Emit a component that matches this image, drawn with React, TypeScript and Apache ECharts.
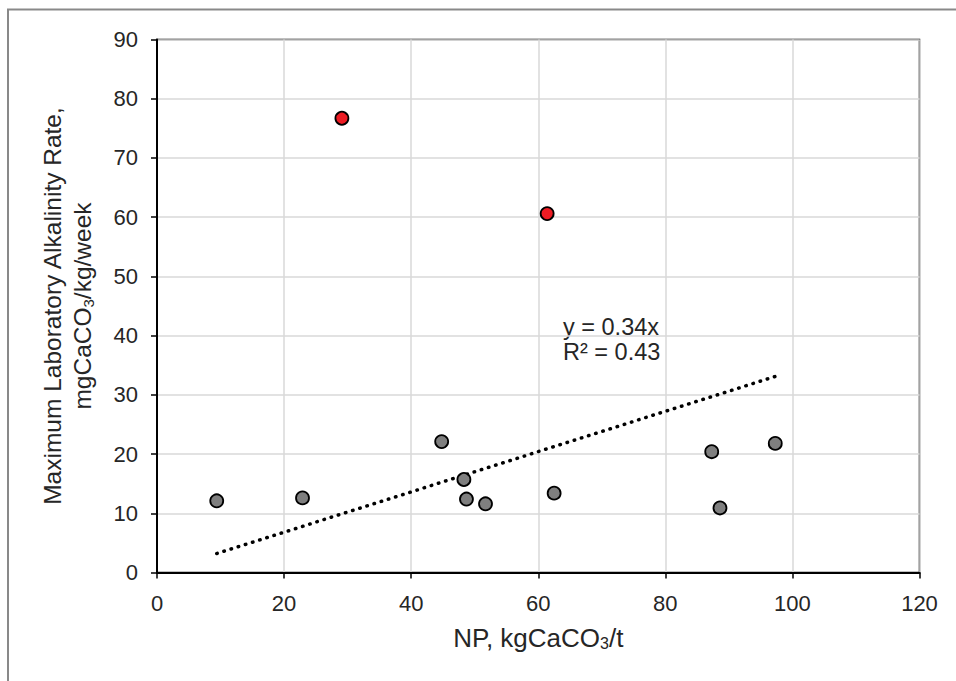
import React, { useEffect, useRef } from "react";
import * as echarts from "echarts";

const grayNP = [9.4, 22.9, 44.8, 48.3, 48.7, 51.7, 62.5, 87.3, 88.6, 97.3];
const grayRate = [12.1, 12.6, 22.1, 15.7, 12.4, 11.6, 13.4, 20.4, 10.9, 21.8];
const redNP = [29.1, 61.4];
const redRate = [76.7, 60.6];
const trendNP = [9.4, 97.3];
const trendRate = [3.2, 33.1];
const xTicks = [0, 20, 40, 60, 80, 100, 120];
const yTicks = [0, 10, 20, 30, 40, 50, 60, 70, 80, 90];
const equationLines = ["y = 0.34x", "R² = 0.43"];

const FONT = "'Liberation Sans', Arial, sans-serif";

export default function App() {
  const ref = useRef<HTMLDivElement>(null);
  useEffect(() => {
    if (!ref.current) return;
    const chart = echarts.init(ref.current, undefined, { renderer: "svg" });
    const zip = (a: number[], b: number[]) => a.map((v, i) => [v, b[i]]);
    chart.setOption({
      animation: false,
      backgroundColor: "#ffffff",
      textStyle: { fontFamily: FONT },
      grid: {
        left: 157,
        top: 39.5,
        right: 36.5,
        bottom: 108.5,
        show: true,
        borderColor: "#000",
        borderWidth: 1.5,
        containLabel: false,
      },
      xAxis: {
        type: "value",
        min: xTicks[0],
        max: xTicks[xTicks.length - 1],
        interval: 20,
        name: "NP, kgCaCO{sub|3}/t",
        nameLocation: "middle",
        nameGap: 50,
        nameTextStyle: {
          fontFamily: FONT,
          fontSize: 26,
          color: "#262626",
          lineHeight: 30,
          rich: {
            sub: { fontFamily: FONT, fontSize: 16, color: "#262626", padding: [12, 0, 0, 0] },
          },
        },
        axisLine: { show: true, onZero: false, lineStyle: { color: "#000", width: 2 } },
        axisTick: { show: true, inside: false, length: 6, lineStyle: { color: "#000", width: 1.5 } },
        axisLabel: { fontFamily: FONT, fontSize: 22, color: "#262626", margin: 20 },
        splitLine: { show: true, lineStyle: { color: "#d9d9d9", width: 1.5 } },
      },
      yAxis: {
        type: "value",
        min: yTicks[0],
        max: yTicks[yTicks.length - 1],
        interval: 10,
        name: "Maximum Laboratory Alkalinity Rate,\nmgCaCO{sub|3}/kg/week",
        nameLocation: "middle",
        nameRotate: 90,
        nameGap: 60,
        nameTextStyle: {
          fontFamily: FONT,
          fontSize: 24.5,
          color: "#262626",
          lineHeight: 30,
          align: "center",
          rich: {
            sub: { fontFamily: FONT, fontSize: 15, color: "#262626", padding: [12, 0, 0, 0] },
          },
        },
        axisLine: { show: true, onZero: false, lineStyle: { color: "#000", width: 2 } },
        axisTick: { show: true, inside: false, length: 6, lineStyle: { color: "#000", width: 1.5 } },
        axisLabel: { fontFamily: FONT, fontSize: 22, color: "#262626", margin: 19 },
        splitLine: { show: true, lineStyle: { color: "#d9d9d9", width: 1.5 } },
      },
      graphic: [
        {
          type: "rect",
          silent: true,
          shape: { x: 8, y: 9.5, width: 1000, height: 700 },
          style: { fill: "none", stroke: "#898989", lineWidth: 2 },
        },
        {
          type: "text",
          left: 563,
          top: 314,
          silent: true,
          style: {
            text: equationLines.join("\n"),
            fontFamily: FONT,
            fontSize: 23.5,
            lineHeight: 25,
            fill: "#262626",
          },
        },
      ],
      series: [
        {
          type: "line",
          data: zip(trendNP, trendRate),
          showSymbol: false,
          symbol: "none",
          silent: true,
          z: 1,
          lineStyle: { color: "#000", width: 3.5, type: [0.5, 7], cap: "round" },
        },
        {
          type: "scatter",
          data: zip(grayNP, grayRate),
          symbol: "circle",
          symbolSize: 13,
          z: 3,
          itemStyle: { color: "#7f7f7f", borderColor: "#000", borderWidth: 1.8, opacity: 1 },
        },
        {
          type: "scatter",
          data: zip(redNP, redRate),
          symbol: "circle",
          symbolSize: 13,
          z: 3,
          itemStyle: { color: "#ed1c24", borderColor: "#000", borderWidth: 1.8, opacity: 1 },
        },
      ],
    });
    return () => chart.dispose();
  }, []);
  return (
    <div
      ref={ref}
      style={{ position: "absolute", left: 0, top: 0, width: 956, height: 681 }}
    />
  );
}
